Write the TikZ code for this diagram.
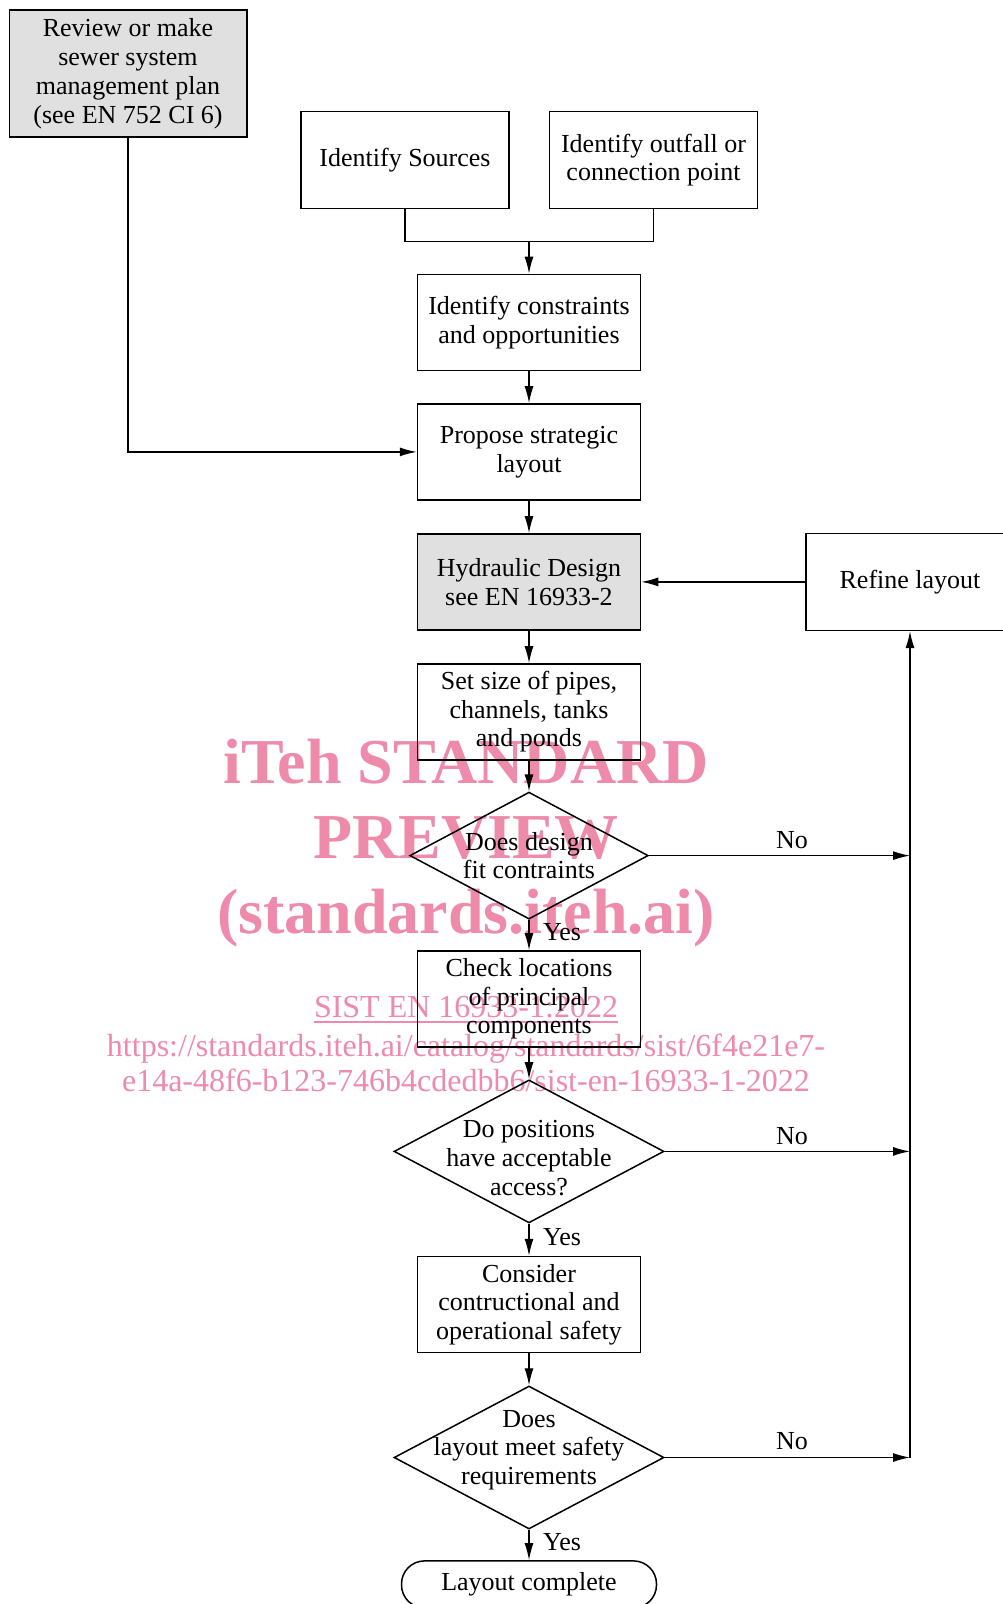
\documentclass[tikz,border=0pt]{standalone}
\usepackage{fontspec}
\usepackage{graphicx}
\setmainfont{Liberation Serif}
\usetikzlibrary{shapes.geometric,arrows.meta}
\newcommand\dfont{\fontsize{26}{28.7}\selectfont}
\newcommand\wmbig{\bfseries\fontsize{64}{75}\selectfont}
\newcommand\wmsmall{\fontsize{32}{35}\selectfont}
\definecolor{wmpink}{RGB}{238,139,170}
\definecolor{boxgray}{RGB}{224,224,224}
\tikzset{
  box/.style={draw, line width=1.5pt, minimum width=223pt, minimum height=96pt,
    align=center, inner sep=2pt, font=\dfont},
  smallbox/.style={box, minimum width=208pt, minimum height=97pt},
  graybox/.style={box, fill=boxgray},
  decision/.style={draw, shape=diamond, line width=1.5pt, inner sep=0pt,
    minimum width=270pt, minimum height=143pt},
  dtext/.style={align=center, font=\dfont, inner sep=0pt},
  terminal/.style={draw, line width=1.5pt, rounded corners=23pt,
    minimum width=255pt, minimum height=47pt, font=\dfont},
  arr/.style={line width=1.3pt, -{Latex[length=17pt,width=9pt]}},
  conn/.style={line width=1.3pt},
  lbl/.style={font=\dfont, inner sep=0pt},
  wm/.style={text=wmpink, inner sep=0pt, anchor=base},
}
\begin{document}
\begin{tikzpicture}[x=1pt,y=-1pt]
\useasboundingbox (0,0) rectangle (1003,1604);
\fill[white] (0,0) rectangle (1003,1604);

% watermark (underneath)
\node[wm, font=\wmbig] (wm1) at (466,783) {iTeh STANDARD};
\node[wm, font=\wmbig] (wm2) at (466,858) {PREVIEW};
\node[wm, font=\wmbig] (wm3) at (466,933) {(standards.iteh.ai)};
\node[wm, font=\wmsmall] (wm4) at (466,1017) {SIST EN 16933-1:2022};
\draw[wmpink, line width=2pt] ([yshift=-5pt]wm4.base west) -- ([yshift=-5pt]wm4.base east);
\node[wm, font=\wmsmall] (wm5) at (466,1056) {https://standards.iteh.ai/catalog/standards/sist/6f4e21e7-};
\node[wm, font=\wmsmall] (wm6) at (466,1091) {e14a-48f6-b123-746b4cdedbb6/sist-en-16933-1-2022};

% nodes
\node[graybox, minimum width=237.5pt, minimum height=127pt] (rev) at (128,73.7)
  {Review or make\\sewer system\\management plan\\(see EN 752 CI 6)};
\node[smallbox] (src) at (405,160) {Identify Sources};
\node[smallbox] (out) at (653.5,160) {Identify outfall or\\connection point};
\node[box] (cons) at (529,322.4) {Identify constraints\\and opportunities};
\node[box] (prop) at (529,451.9) {Propose strategic\\layout};
\node[graybox] (hyd) at (529,581.9) {Hydraulic Design\\see EN 16933-2};
\node[smallbox] (ref) at (910,581.9) {Refine layout};
\node[box] (size) at (529,711.9) {Set size of pipes,\\channels, tanks\\and ponds};
\node[decision, minimum width=238.5pt, minimum height=127pt] (d1) at (529,855.6) {};
\node[dtext] (d1t) at (529,855.6) {Does design\\fit contraints};
\node[box] (chk) at (529,998.9) {Check locations\\of principal\\components};
\node[decision] (d2) at (529,1151.4) {};
\node[dtext] (d2t) at (529,1158) {Do positions\\have acceptable\\access?};
\node[box] (cons2) at (529,1304.5) {Consider\\contructional and\\operational safety};
\node[decision] (d3) at (529,1457.5) {};
\node[dtext] (d3t) at (529,1450) {Does\\layout meet safety\\requirements};
\node[terminal] (end) at (529,1584.4) {Layout complete};

\coordinate (j) at (529,241.5);
\coordinate (rl) at (910,0);

% connectors
\draw[conn] (src.south) -- (src.south |- j) -- (out.south |- j) -- (out.south);
\draw[arr] (j) -- (cons.north);
\draw[arr] (cons.south) -- (prop.north);
\draw[arr] (rev.south) |- (prop.west);
\draw[arr] (prop.south) -- (hyd.north);
\draw[arr] (ref.west) -- (hyd.east);
\draw[arr] (hyd.south) -- (size.north);
\draw[arr] (size.south) -- (d1.north);
\draw[arr] (d1.south) -- (chk.north);
\draw[arr] (chk.south) -- (d2.north);
\draw[arr] (d2.south) -- (cons2.north);
\draw[arr] (cons2.south) -- (d3.north);
\draw[arr] (d3.south) -- (end.north);
\draw[arr] (d1.east) -- (d1.east -| rl);
\draw[arr] (d2.east) -- (d2.east -| rl);
\draw[arr] (d3.east) -- (d3.east -| rl);
\draw[arr] (d3.east -| rl) -- (ref.south);

% labels
\node[lbl] (y1) at (562,932.4) {Yes};
\node[lbl] (y2) at (562,1237.4) {Yes};
\node[lbl] (y3) at (562,1542.4) {Yes};
\node[lbl] (n1) at (792,840.3) {No};
\node[lbl] (n2) at (792,1136) {No};
\node[lbl] (n3) at (792,1441) {No};
\end{tikzpicture}
\end{document}
